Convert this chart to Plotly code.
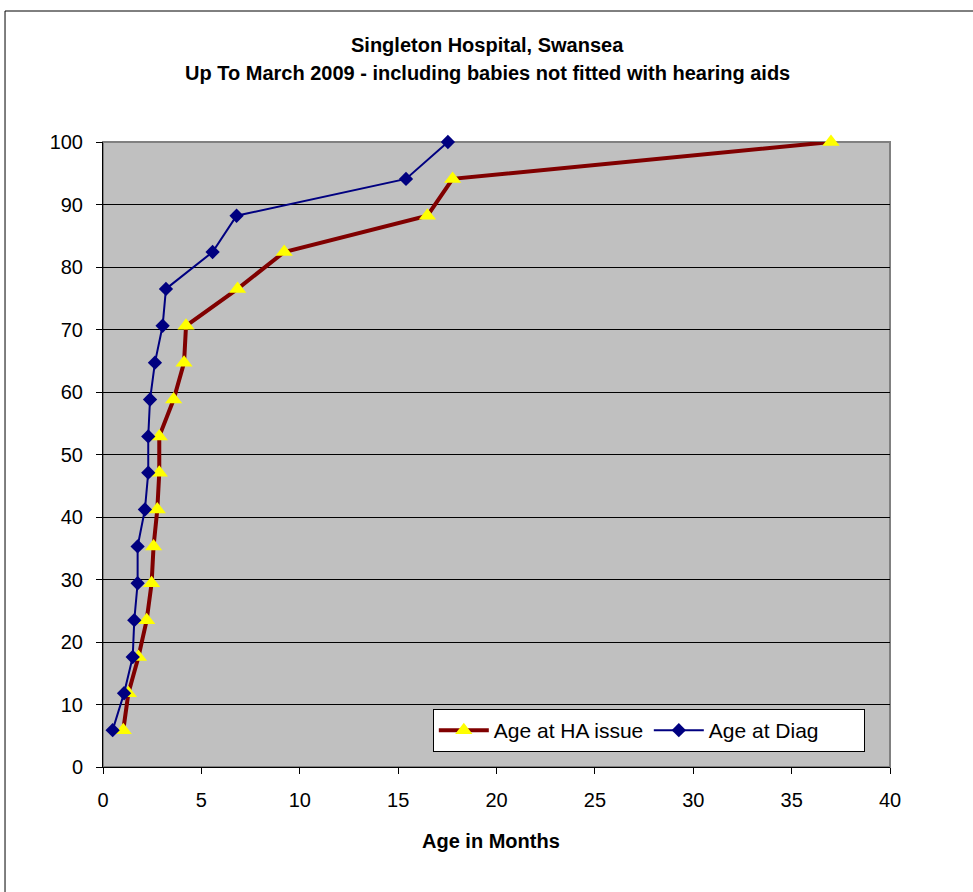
import plotly.graph_objects as go

# Cumulative percentage of babies (17 cases, one step each)
cum_percent = [5.9, 11.8, 17.6, 23.5, 29.4, 35.3, 41.2, 47.1, 52.9,
               58.8, 64.7, 70.6, 76.5, 82.4, 88.2, 94.1, 100.0]

# Age in months at hearing-aid issue
age_ha_issue = [1.03, 1.29, 1.80, 2.22, 2.47, 2.57, 2.76, 2.86, 2.86,
                3.59, 4.12, 4.22, 6.84, 9.21, 16.49, 17.77, 37.0]

# Age in months at diagnosis
age_diag = [0.49, 1.07, 1.51, 1.59, 1.76, 1.76, 2.13, 2.30, 2.30,
            2.39, 2.64, 3.03, 3.20, 5.57, 6.79, 15.40, 17.53]

x_ticks = [0, 5, 10, 15, 20, 25, 30, 35, 40]
y_ticks = [0, 10, 20, 30, 40, 50, 60, 70, 80, 90, 100]

title_lines = ["Singleton Hospital, Swansea",
               "Up To March 2009 - including babies not fitted with hearing aids"]

FONT = "Liberation Sans, Arial, sans-serif"

fig = go.Figure()

fig.add_trace(go.Scatter(
    x=age_ha_issue, y=cum_percent, mode="lines+markers",
    name="Age at HA issue",
    line=dict(color="#800000", width=4),
    marker=dict(symbol="triangle-up", size=15, color="#FFFF00",
                line=dict(width=0)),
    cliponaxis=False,
))

fig.add_trace(go.Scatter(
    x=age_diag, y=cum_percent, mode="lines+markers",
    name="Age at Diag",
    line=dict(color="#000080", width=2),
    marker=dict(symbol="diamond", size=11, color="#000080",
                line=dict(width=0)),
    cliponaxis=False,
))

fig.update_layout(
    width=973, height=892,
    margin=dict(l=103, r=83, t=142, b=125),
    paper_bgcolor="white",
    plot_bgcolor="#C0C0C0",
    font=dict(family=FONT, size=20, color="black"),
    showlegend=True,
    legend=dict(
        orientation="h",
        x=0.968, xanchor="right",
        y=0.024, yanchor="bottom",
        bgcolor="white", bordercolor="black", borderwidth=1,
        font=dict(family=FONT, size=21, color="black"),
        itemwidth=50,
        entrywidth=150,
    ),
    xaxis=dict(
        range=[0, 40], tickvals=x_ticks, ticktext=[str(v) for v in x_ticks],
        showgrid=False, zeroline=False,
        showline=True, linecolor="black", linewidth=1,
        ticks="outside", ticklen=6, tickcolor="black",
        ticklabelstandoff=9,
        tickfont=dict(size=20),
    ),
    yaxis=dict(
        range=[0, 100], tickvals=y_ticks, ticktext=[str(v) for v in y_ticks],
        showgrid=True, gridcolor="black", gridwidth=1, zeroline=False,
        showline=True, linecolor="black", linewidth=1,
        ticks="outside", ticklen=6, tickcolor="black",
        ticklabelstandoff=9,
        tickfont=dict(size=20),
    ),
)

# Plot-area frame (grey, top and right) and outer chart border
fig.add_shape(type="rect", xref="paper", yref="paper",
              x0=0, x1=1, y0=0, y1=1,
              line=dict(color="#808080", width=2), layer="below")
fig.add_shape(type="rect", xref="paper", yref="paper",
              x0=-0.1245, x1=1.3, y0=-0.4, y1=1.2096,
              line=dict(color="black", width=1), layer="below")

# Title lines
fig.add_annotation(text="<b>" + title_lines[0] + "</b>", xref="paper", yref="paper",
                   x=0.489, y=1.1552, showarrow=False,
                   xanchor="center", yanchor="middle",
                   font=dict(family=FONT, size=20, color="black"))
fig.add_annotation(text="<b>" + title_lines[1] + "</b>", xref="paper", yref="paper",
                   x=0.489, y=1.1104, showarrow=False,
                   xanchor="center", yanchor="middle",
                   font=dict(family=FONT, size=20, color="black"))

# X-axis title
fig.add_annotation(text="<b>Age in Months</b>", xref="paper", yref="paper",
                   x=0.493, y=-0.1184, showarrow=False,
                   xanchor="center", yanchor="middle",
                   font=dict(family=FONT, size=20, color="black"))

fig.write_html("out.html")
